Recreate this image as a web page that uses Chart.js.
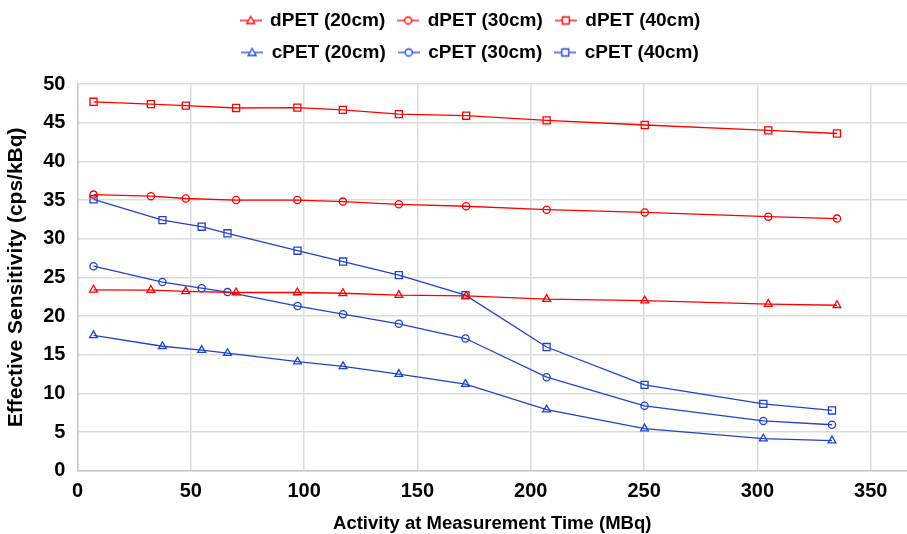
<!DOCTYPE html>
<html>
<head>
<meta charset="utf-8">
<script src="https://cdn.jsdelivr.net/npm/chart.js@4.4.1/dist/chart.umd.min.js"></script>
<style>
  html, body { margin: 0; padding: 0; background: #fff; overflow: hidden; }
  #wrap { width: 907px; height: 534px; }
</style>
</head>
<body>
<div id="wrap"><canvas id="sens"></canvas></div>
<script>
// activity (MBq) at each measurement
var dpetActivity = [7.1, 32.4, 47.8, 70, 97, 117.1, 141.8, 171.5, 207, 250.3, 304.8, 335.1];
var cpetActivity = [7.1, 37.5, 54.8, 66.2, 97.1, 117.2, 141.8, 171.2, 207, 250.2, 302.6, 332.9];

// effective sensitivity (cps/kBq)
var dpet20 = [23.4, 23.35, 23.2, 23.05, 23.05, 22.95, 22.7, 22.6, 22.2, 22.0, 21.55, 21.4];
var dpet30 = [35.7, 35.5, 35.2, 35.0, 35.0, 34.8, 34.45, 34.2, 33.75, 33.4, 32.85, 32.6];
var dpet40 = [47.7, 47.4, 47.2, 46.9, 46.95, 46.65, 46.1, 45.9, 45.3, 44.7, 44.0, 43.6];
var cpet20 = [17.5, 16.1, 15.6, 15.2, 14.1, 13.5, 12.5, 11.2, 7.9, 5.45, 4.15, 3.9];
var cpet30 = [26.45, 24.4, 23.6, 23.1, 21.3, 20.25, 19.0, 17.1, 12.1, 8.4, 6.45, 5.95];
var cpet40 = [35.1, 32.4, 31.55, 30.7, 28.45, 27.05, 25.3, 22.7, 16.0, 11.1, 8.65, 7.8];

var xTicks = [0, 50, 100, 150, 200, 250, 300, 350];

var RED = '#ff0000';
var BLUE = '#1f44cc';

function pts(xs, ys) {
  return xs.map(function (x, i) { return {x: x, y: ys[i]}; });
}

// legend icon: short line with the marker in the middle
function icon(color, shape) {
  var c = document.createElement('canvas');
  c.width = 22; c.height = 12;
  var g = c.getContext('2d');
  g.strokeStyle = color;
  g.lineWidth = 1.3;
  g.beginPath(); g.moveTo(0, 6); g.lineTo(22, 6); g.stroke();
  g.fillStyle = '#fff';
  g.beginPath();
  if (shape == 'triangle') {
    g.moveTo(11, 2); g.lineTo(15, 9); g.lineTo(7, 9); g.closePath();
  } else if (shape == 'circle') {
    g.arc(11, 6, 3.5, 0, Math.PI * 2);
  } else {
    g.rect(7.5, 2.5, 7, 7);
  }
  g.fill(); g.stroke();
  return c;
}

function series(label, xs, ys, color, shape, r) {
  return {
    label: label,
    data: pts(xs, ys),
    borderColor: color,
    backgroundColor: 'rgba(255,255,255,0)',
    borderWidth: 1.3,
    pointStyle: shape,
    pointRadius: r,
    pointBorderWidth: 1.3,
    pointBorderColor: color,
    pointBackgroundColor: 'rgba(255,255,255,0)',
    tension: 0,
    _icon: icon(color, shape)
  };
}

Chart.defaults.font.family = "'Liberation Sans', Arial, Helvetica, sans-serif";
Chart.defaults.font.weight = 'bold';
Chart.defaults.color = '#000';

// three legend entries per row, centred, with a gap under the legend
var FIT_W = 500, DRAW_W = 560;
var legendRows = {
  id: 'legendRows',
  afterInit: function (chart) {
    var lg = chart.legend;
    var orig = lg.update;
    lg.update = function (w, h, m) {
      var r = orig.call(this, Math.min(w, FIT_W), h, m);
      this.height += 10;
      return r;
    };
  },
  afterLayout: function (chart) {
    var lg = chart.legend;
    var mid = chart.width / 2 + 17;
    lg.left = mid - DRAW_W / 2;
    lg.right = mid + DRAW_W / 2;
    lg.top -= 2;
  }
};

var ctx = document.getElementById('sens').getContext('2d');
var sens = new Chart(ctx, {
  type: 'line',
  data: {
    datasets: [
      series('dPET (20cm)', dpetActivity, dpet20, RED, 'triangle', 4.5),
      series('dPET (30cm)', dpetActivity, dpet30, RED, 'circle', 3.6),
      series('dPET (40cm)', dpetActivity, dpet40, RED, 'rect', 5),
      series('cPET (20cm)', cpetActivity, cpet20, BLUE, 'triangle', 4.5),
      series('cPET (30cm)', cpetActivity, cpet30, BLUE, 'circle', 3.6),
      series('cPET (40cm)', cpetActivity, cpet40, BLUE, 'rect', 5)
    ]
  },
  plugins: [legendRows],
  options: {
    responsive: true,
    maintainAspectRatio: false,
    animation: false,
    layout: { autoPadding: false, padding: { top: 0, left: 4, right: 0, bottom: 0 } },
    plugins: {
      tooltip: { enabled: false },
      legend: {
        position: 'top',
        labels: {
          usePointStyle: true,
          pointStyleWidth: 20,
          padding: 13,
          font: { size: 19, weight: 'bold' },
          generateLabels: function (chart) {
            var items = Chart.defaults.plugins.legend.labels.generateLabels(chart);
            items.forEach(function (it) {
              it.pointStyle = chart.data.datasets[it.datasetIndex]._icon;
            });
            return items;
          }
        }
      }
    },
    scales: {
      x: {
        type: 'linear',
        min: 0,
        max: 366,
        afterBuildTicks: function (scale) {
          scale.ticks = xTicks.map(function (v) { return {value: v}; });
        },
        afterFit: function (scale) {
          scale.paddingRight = 0;
        },
        grid: { color: '#dcdcdc', lineWidth: 1.5, drawTicks: false },
        border: { color: '#c8c8c8', width: 1.5 },
        ticks: { padding: 9, font: { size: 20, weight: 'bold' } },
        title: {
          display: true,
          text: 'Activity at Measurement Time (MBq)',
          font: { size: 18.5, weight: 'bold' },
          padding: { top: 0, bottom: -1 }
        }
      },
      y: {
        min: 0,
        max: 50,
        ticks: { stepSize: 5, padding: 12, font: { size: 20, weight: 'bold' } },
        grid: { color: '#dcdcdc', lineWidth: 1.5, drawTicks: false },
        border: { color: '#c8c8c8', width: 1.5 },
        title: {
          display: true,
          text: 'Effective Sensitivity (cps/kBq)',
          font: { size: 21, weight: 'bold' },
          padding: { top: 0, bottom: 2 }
        }
      }
    }
  }
});
</script>
</body>
</html>
